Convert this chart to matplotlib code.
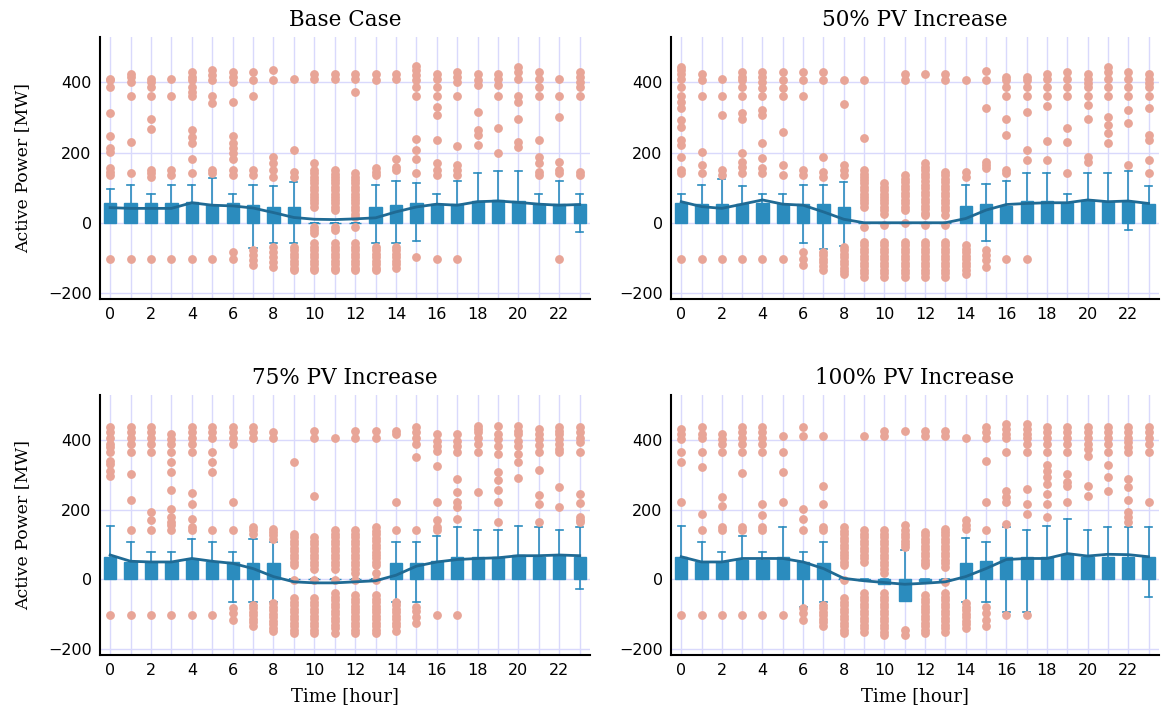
import matplotlib
matplotlib.use("Agg")
import matplotlib.pyplot as plt

hours = list(range(24))

# ---------------- Base Case ----------------
base_q1 = [0] * 24
base_q3 = [55, 55, 55, 55, 58, 50, 55, 50, 46, 46, 0, 0, 0, 46, 50, 55, 53, 53, 63, 65, 63, 53, 53, 53]
base_hi = [95, 109, 81, 109, 109, 128, 81, 109, 104, 117, 0, 0, 0, 109, 120, 112, 81, 120, 142, 148, 148, 81, 120, 81]
base_lo = [0, 0, 0, 0, 0, 0, 0, -73, -59, -59, 0, 0, 0, -59, -59, -52, 0, 0, 0, 0, 0, 0, 0, -26]
base_mean = [43, 41, 41, 41, 57, 50, 48, 42, 29, 15, 10, 9, 11, 14, 31, 45, 53, 50, 60, 62, 58, 53, 50, 52]
base_fliers = [
    [411, 406, 386, 314, 247, 212, 202, 155, 145, 136, -102],
    [425, 416, 402, 362, 231, 141, -102],
    [411, 402, 386, 362, 297, 266, 150, 141, 131, -102],
    [411, 362, 150, 136, -102],
    [430, 416, 407, 388, 373, 362, 264, 245, 226, 183, 141, -102],
    [435, 421, 407, 362, 340, 150, 141, -102],
    [430, 416, 402, 343, 247, 226, 212, 198, 183, 150, 136, -83, -102],
    [430, 407, 362, 150, 136, -78, -92, -106, -121],
    [435, 407, 188, 169, 150, 131, -68, -83, -97, -111, -125],
    [411, 207, 145, 131, -68, -78, -88, -98, -108, -118, -128, -135],
    [425, 411, 169, 150, 141, 131, 121, 112, 102, 93, 83, 74, 64, 55, 45, -11, -20, -30,
     -59, -68, -78, -88, -98, -108, -118, -128, -135],
    [425, 411, 150, 140, 131, 121, 112, 102, 93, 83, 74, 64, 55, 45, 36, -11, -20,
     -59, -68, -78, -88, -98, -108, -118, -128, -135],
    [425, 411, 373, 141, 131, 121, 112, 102, 93, 83, 74, 64, 55, 45, 36, 26, 17, -11,
     -59, -68, -78, -88, -98, -108, -118, -128, -135],
    [425, 407, 155, 145, 136, -68, -78, -88, -98, -108, -118, -128, -135],
    [425, 411, 183, 160, 150, -68, -78, -88, -98, -108, -118, -128],
    [446, 435, 421, 407, 388, 362, 240, 207, 183, 141, -97],
    [425, 411, 388, 362, 331, 307, 236, 169, 150, 136, -102],
    [430, 416, 402, 362, 218, 164, 150, 136, -102],
    [425, 407, 392, 316, 264, 250, 221],
    [425, 411, 392, 362, 269, 198],
    [445, 430, 411, 362, 345, 297, 231, 217],
    [430, 411, 388, 362, 236, 188, 169, 145, 136],
    [411, 362, 302, 174, 150, 141, -102],
    [430, 416, 402, 386, 362, 145, 136],
]

# ---------------- 50% PV Increase ----------------
pv50_q1 = [0] * 24
pv50_q3 = [55, 53, 53, 53, 55, 53, 53, 53, 46, 0, 0, 0, 0, 0, 47, 53, 47, 63, 63, 55, 65, 60, 60, 53]
pv50_hi = [81, 109, 124, 104, 81, 81, 109, 109, 117, 0, 0, 0, 0, 0, 109, 111, 120, 142, 142, 81, 142, 142, 148, 104]
pv50_lo = [0, 0, 0, 0, 0, 0, -59, -76, -66, 0, 0, 0, 0, 0, 0, -52, 0, 0, 0, 0, 0, 0, -21, 0]
pv50_mean = [60, 46, 41, 53, 65, 53, 50, 31, 10, 0, 0, 0, 0, 0, 12, 36, 52, 55, 57, 57, 65, 60, 62, 55]
pv50_fliers = [
    [445, 435, 425, 411, 388, 362, 345, 326, 293, 274, 236, 221, 188, 150, 141, -102],
    [425, 407, 362, 202, 164, 141, -102],
    [411, 362, 307, 150, 136, -102],
    [430, 416, 407, 388, 362, 312, 297, 198, 174, 160, 141, -102],
    [430, 416, 402, 383, 362, 321, 307, 226, 186, 155, 141, -102],
    [430, 407, 383, 362, 259, 164, 136, -102],
    [430, 407, 362, 150, 136, -83, -102, -121],
    [430, 407, 188, 145, 131, -83, -93, -103, -113, -123, -135],
    [407, 338, 164, 150, 136, -68, -78, -88, -98, -108, -118, -128, -138, -145],
    [407, 243, 150, 140, 131, 121, 112, 102, 93, 83, 74, 64, 55, 45, -11,
     -54, -64, -74, -84, -94, -104, -114, -124, -134, -144, -154],
    [112, 102, 93, 83, 74, 64, 55, 45, 36, 26, -7,
     -54, -64, -74, -84, -94, -104, -114, -124, -134, -144, -154],
    [425, 407, 136, 126, 116, 106, 96, 86, 76, 66, 56, 46, 36, -2,
     -54, -64, -74, -84, -94, -104, -114, -124, -134, -144, -154],
    [424, 169, 159, 149, 139, 129, 119, 109, 99, 89, 79, 69, 59, 49, 39, 29, 22, -7,
     -54, -64, -74, -84, -94, -104, -114, -124, -134, -144, -154],
    [425, 407, 145, 135, 125, 115, 105, 95, 85, 75, 65, 55, 45, 35, 22, -7,
     -54, -64, -74, -84, -94, -104, -114, -124, -134, -144, -154],
    [407, 145, 131, -64, -74, -84, -94, -104, -114, -124, -134, -145],
    [433, 407, 326, 174, 164, 155, -78, -92, -106, -127],
    [416, 407, 388, 362, 297, 250, 150, 141, -102],
    [416, 407, 386, 362, 316, 207, 179, -102],
    [425, 411, 386, 362, 332, 234, 179],
    [430, 411, 386, 362, 269, 231, 141],
    [425, 411, 397, 386, 362, 335, 295, 188, 174],
    [445, 430, 411, 386, 362, 302, 278, 255, 226],
    [430, 411, 386, 362, 321, 283, 164],
    [425, 411, 397, 386, 362, 326, 250, 236, 179, 141],
]

# ---------------- 75% PV Increase ----------------
pv75_q1 = [0] * 24
pv75_q3 = [65, 50, 50, 50, 57, 50, 50, 48, 46, 0, 0, 0, 0, 0, 48, 48, 53, 65, 65, 65, 69, 65, 69, 65]
pv75_hi = [153, 108, 79, 79, 117, 108, 79, 117, 106, 0, 0, 0, 0, 0, 108, 108, 124, 150, 141, 141, 153, 150, 143, 150]
pv75_lo = [0, 0, 0, 0, 0, 0, -64, -66, -64, 0, 0, 0, 0, 0, -64, -64, 0, 0, 0, 0, 0, 0, 0, -28]
pv75_mean = [70, 52, 50, 50, 60, 52, 46, 31, 8, -7, -10, -10, -7, -4, 12, 38, 50, 57, 60, 62, 68, 68, 70, 68]
pv75_fliers = [
    [436, 422, 407, 388, 379, 365, 341, 331, 312, 298, -102],
    [436, 422, 407, 388, 365, 303, 227, 141, -102],
    [436, 422, 407, 388, 365, 193, 169, 141, -102],
    [417, 403, 388, 365, 336, 307, 257, 203, 179, 165, 155, 141, -102],
    [436, 422, 407, 388, 365, 248, 215, 174, 150, 141, -102],
    [436, 422, 407, 365, 336, 307, 141, -102],
    [436, 422, 407, 388, 222, 141, -83, -97, -116],
    [436, 422, 407, 150, 141, 131, -73, -83, -93, -103, -113, -123, -135],
    [422, 407, 146, 136, 126, 116, -69, -79, -89, -99, -109, -119, -129, -139, -149],
    [336, 131, 121, 111, 101, 91, 81, 71, 61, 51, 41, -2,
     -54, -64, -74, -84, -94, -104, -114, -124, -134, -144, -154],
    [426, 407, 238, 121, 111, 101, 91, 81, 71, 61, 51, 41, 31, -2,
     -54, -64, -74, -84, -94, -104, -114, -124, -134, -144, -154],
    [407, 141, 131, 121, 111, 101, 91, 81, 71, 61, 51, 41, 31, -2,
     -40, -50, -60, -70, -80, -90, -100, -110, -120, -130, -140, -154],
    [426, 407, 141, 131, 121, 111, 101, 91, 81, 71, 61, 51, 41, 31, 17, -2,
     -45, -55, -65, -75, -85, -95, -105, -115, -125, -135, -145, -154],
    [426, 407, 150, 140, 130, 120, 110, 100, 90, 80, 70, 60, 50, 40, 17, -2,
     -45, -55, -65, -75, -85, -95, -105, -115, -125, -135, -145, -154],
    [426, 417, 222, 141, -64, -74, -84, -94, -104, -114, -124, -134, -149],
    [436, 422, 407, 388, 350, 141, -78, -92, -107, -126],
    [417, 398, 384, 369, 324, 222, 169, 150, 141, -102],
    [417, 398, 384, 365, 288, 250, 222, 207, 174, -102],
    [441, 431, 422, 407, 388, 365, 250],
    [441, 417, 403, 384, 360, 307, 284, 257, 222, 165],
    [441, 426, 417, 398, 384, 360, 336, 291],
    [431, 417, 403, 386, 365, 314, 241, 217, 165],
    [436, 426, 417, 403, 388, 374, 365, 265, 207],
    [436, 422, 407, 393, 365, 246, 219, 179, 169, 165],
]

# ---------------- 100% PV Increase ----------------
pv100_q1 = [0, 0, 0, 0, 0, 0, 0, 0, 0, -3, -12, -61, -5, -3, 0, 0, 0, 0, 0, 0, 0, 0, 0, 0]
pv100_q3 = [65, 50, 50, 55, 55, 65, 50, 48, 0, 0, 0, 0, 0, 0, 48, 53, 65, 65, 65, 74, 65, 65, 65, 65]
pv100_hi = [153, 108, 79, 125, 79, 149, 79, 106, 0, 0, 0, 84, 0, 0, 119, 108, 150, 143, 153, 172, 143, 150, 150, 150]
pv100_lo = [0, 0, 0, 0, 0, 0, -78, -66, 0, -3, -12, -61, -5, -3, -64, -64, -95, -95, 0, 0, 0, 0, 0, -51]
pv100_mean = [65, 50, 50, 60, 60, 60, 50, 31, 3, -4, -9, -14, -11, -7, 8, 31, 57, 60, 60, 74, 67, 72, 71, 65]
pv100_fliers = [
    [431, 417, 403, 365, 336, 222, -102],
    [436, 417, 407, 365, 322, 188, 141, -102],
    [417, 403, 388, 365, 236, 212, 150, 141, -102],
    [436, 422, 407, 388, 365, 305, 150, 141, -102],
    [436, 422, 407, 388, 365, 217, 184, 150, 141, -102],
    [412, 365, 307, 222, -102],
    [436, 412, 203, 174, 141, -83, -97, -116],
    [412, 269, 217, 150, 141, -73, -83, -93, -103, -113, -123, -135],
    [150, 140, 130, 120, 110, 100, 90, 80, 70, 60, 50, 40, -2,
     -54, -64, -74, -84, -94, -104, -114, -124, -134, -144, -154],
    [412, 141, 131, 121, 111, 101, 91, 81, 71, 61, 51,
     -40, -50, -60, -70, -80, -90, -100, -110, -120, -130, -140, -150],
    [426, 412, 141, 131, 121, 111, 101, 91, 81, 71, 61, 51, 41, 31, 17,
     -40, -50, -60, -70, -80, -90, -100, -110, -120, -130, -140, -150, -160],
    [426, 155, 141, 131, 121, 111, 101, 93, -145, -159],
    [426, 412, 136, 126, 116, 106, 96, 86, 76, 66, 56, 46, 41,
     -45, -55, -65, -75, -85, -95, -105, -115, -125, -135, -145, -155],
    [426, 412, 146, 136, 126, 116, 106, 96, 86, 76, 66, 56, 46, 36, -7,
     -40, -50, -60, -70, -80, -90, -100, -110, -120, -130, -140, -150],
    [407, 169, 155, 146, -69, -79, -89, -99, -109, -119, -129, -139],
    [436, 422, 407, 341, 222, 141, -78, -97, -116, -135],
    [446, 431, 417, 407, 365, 255, 236, 222, 160, -102],
    [446, 431, 417, 407, 388, 365, 260, 217, 188, -102],
    [436, 422, 407, 388, 365, 327, 312, 293, 274, 246, 217, 179],
    [436, 422, 407, 388, 365, 303, 279, 269, 222],
    [436, 422, 407, 388, 374, 355, 269, 238],
    [436, 422, 407, 388, 365, 327, 293, 255],
    [436, 422, 407, 393, 379, 365, 288, 265, 227, 193, 179, 165],
    [436, 422, 407, 388, 365, 222],
]

titles = ["Base Case", "50% PV Increase", "75% PV Increase", "100% PV Increase"]
y_ticks = [-200, 0, 200, 400]
x_ticks = list(range(0, 24, 2))

scenarios = [
    (base_q1, base_q3, base_hi, base_lo, base_mean, base_fliers),
    (pv50_q1, pv50_q3, pv50_hi, pv50_lo, pv50_mean, pv50_fliers),
    (pv75_q1, pv75_q3, pv75_hi, pv75_lo, pv75_mean, pv75_fliers),
    (pv100_q1, pv100_q3, pv100_hi, pv100_lo, pv100_mean, pv100_fliers),
]

BOX = "#2b8cbe"
LINE = "#1f6a94"
FLIER = "#e8a597"
GRID = "#d9d9fc"
SERIF = "DejaVu Serif"

fig = plt.figure(figsize=(11.61, 7.15), dpi=100)
rects = [
    [0.0861, 0.582, 0.422, 0.366],
    [0.578, 0.582, 0.420, 0.366],
    [0.0861, 0.0839, 0.422, 0.3636],
    [0.578, 0.0839, 0.420, 0.3636],
]

for i, (rect, title, data) in enumerate(zip(rects, titles, scenarios)):
    q1, q3, hi, lo, mean, fliers = data
    ax = fig.add_axes(rect)
    stats = []
    for h in hours:
        stats.append(dict(med=q1[h], q1=q1[h], q3=q3[h], whislo=lo[h],
                          whishi=hi[h], fliers=fliers[h]))
    ax.bxp(stats, positions=hours, widths=0.6, capwidths=0.35,
           patch_artist=True, showfliers=True,
           boxprops=dict(facecolor=BOX, edgecolor=BOX, linewidth=1.0),
           whiskerprops=dict(color=BOX, linewidth=1.2),
           capprops=dict(color=BOX, linewidth=1.2),
           medianprops=dict(linewidth=0),
           flierprops=dict(marker="o", markerfacecolor=FLIER,
                           markeredgecolor=FLIER, markersize=5.3,
                           linestyle="none"))
    ax.plot(hours, mean, color=LINE, linewidth=2.0, zorder=5)

    ax.set_xlim(-0.5, 23.5)
    ax.set_ylim(-217, 529)
    ax.set_xticks(hours)
    ax.set_xticklabels([str(h) if h in x_ticks else "" for h in hours])
    ax.set_yticks(y_ticks)
    ax.grid(True, color=GRID, linewidth=1.0)
    ax.set_axisbelow(True)
    ax.tick_params(length=0, labelsize=11.5, pad=6)
    for side in ("top", "right"):
        ax.spines[side].set_visible(False)
    for side in ("left", "bottom"):
        ax.spines[side].set_linewidth(1.5)
        ax.spines[side].set_color("black")
    ax.set_title(title, family=SERIF, fontsize=15.5, pad=8)
    if i % 2 == 0:
        ax.set_ylabel("Active Power [MW]", family=SERIF, fontsize=12.5,
                      labelpad=12)
    if i >= 2:
        ax.set_xlabel("Time [hour]", family=SERIF, fontsize=13, labelpad=6)

fig.savefig("out.png", dpi=100)
